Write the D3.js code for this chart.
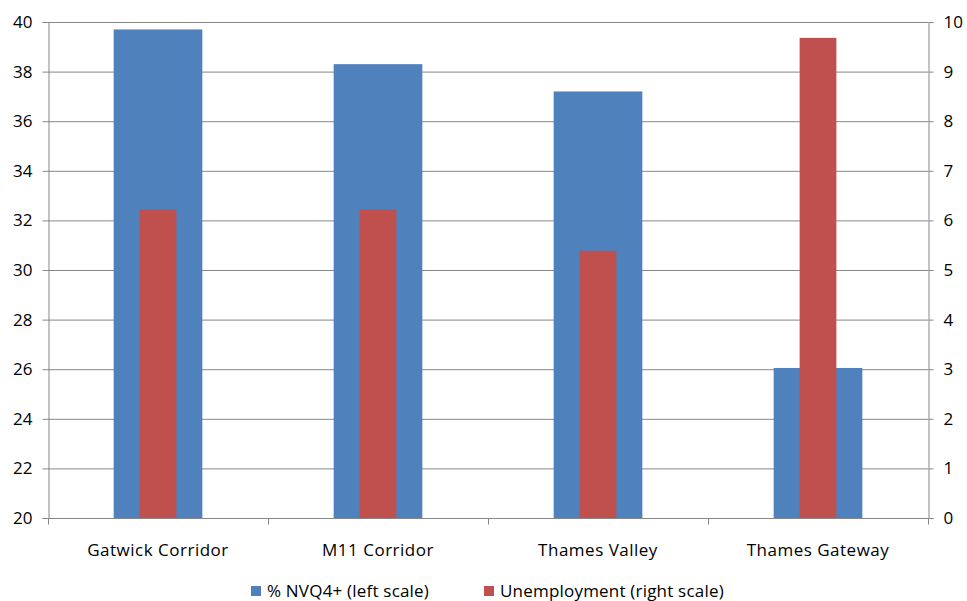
<!DOCTYPE html>
<html>
<head>
<meta charset="utf-8">
<script src="https://cdn.jsdelivr.net/npm/d3@7"></script>
<style>
  body { margin: 0; background: #fff; }
  svg text { font-family: "Open Sans", sans-serif; fill: #000; }
</style>
</head>
<body>
<svg width="967" height="601"></svg>
<script>
// data
var categories = ["Gatwick Corridor", "M11 Corridor", "Thames Valley", "Thames Gateway"];
var nvq4 = [39.7, 38.3, 37.2, 26.05];          // left scale
var unemployment = [6.22, 6.22, 5.39, 9.68];   // right scale
var leftTicks = [20, 22, 24, 26, 28, 30, 32, 34, 36, 38, 40];
var rightTicks = [0, 1, 2, 3, 4, 5, 6, 7, 8, 9, 10];
var legendLabels = ["% NVQ4+ (left scale)", "Unemployment (right scale)"];

var blue = "#4F81BD", red = "#C0504D", grid = "#878787";

var margin = {top: 22, right: 39, bottom: 83, left: 48};
var svg = d3.select("svg");
var width = 967 - margin.left - margin.right;
var height = 601 - margin.top - margin.bottom;

var g = svg.append("g").attr("transform", "translate(" + margin.left + "," + margin.top + ")");

var x = d3.scaleBand().domain(categories).range([0, width]);
var yL = d3.scaleLinear().domain([20, 40]).range([height, 0]);
var yR = d3.scaleLinear().domain([0, 10]).range([height, 0]);

// gridlines
g.selectAll(".grid").data(leftTicks.slice(1))
  .enter().append("line")
  .attr("x1", 0).attr("x2", width)
  .attr("y1", d => yL(d) + 0.5).attr("y2", d => yL(d) + 0.5)
  .attr("stroke", grid).attr("stroke-width", 1);

// blue bars (wide)
var bw = x.bandwidth() * 0.403;
g.selectAll(".nvq").data(nvq4)
  .enter().append("rect")
  .attr("x", (d, i) => x(categories[i]) + x.bandwidth() / 2 - bw / 2)
  .attr("width", bw)
  .attr("y", d => yL(d))
  .attr("height", d => height - yL(d))
  .attr("fill", blue);

// red bars (narrow, in front)
var rw = x.bandwidth() * 0.167;
g.selectAll(".unemp").data(unemployment)
  .enter().append("rect")
  .attr("x", (d, i) => x(categories[i]) + x.bandwidth() / 2 - rw / 2)
  .attr("width", rw)
  .attr("y", d => yR(d))
  .attr("height", d => height - yR(d))
  .attr("fill", red);

// axes
var leftAxis = d3.axisLeft(yL).tickValues(leftTicks).tickSize(6).tickPadding(10);
var rightAxis = d3.axisRight(yR).tickValues(rightTicks).tickSize(5).tickPadding(10);

var la = g.append("g").attr("transform", "translate(0.5,0)").call(leftAxis);
var ra = g.append("g").attr("transform", "translate(" + (width + 0.5) + ",0)").call(rightAxis);
[la, ra].forEach(function(a) {
  a.select(".domain").attr("stroke", grid);
  a.selectAll(".tick line").attr("stroke", grid);
  a.selectAll("text").attr("font-size", "17px").attr("font-family", "'Open Sans', sans-serif");
});

// bottom axis with ticks between categories
var bottom = g.append("g").attr("transform", "translate(0," + (height + 0.5) + ")");
bottom.append("line").attr("x1", 0).attr("x2", width).attr("stroke", grid);
bottom.selectAll(".btick").data(d3.range(categories.length + 1))
  .enter().append("line")
  .attr("x1", i => Math.round(i * x.step()) + 0.5)
  .attr("x2", i => Math.round(i * x.step()) + 0.5)
  .attr("y1", 0).attr("y2", 6)
  .attr("stroke", grid);
bottom.selectAll(".blabel").data(categories)
  .enter().append("text")
  .attr("x", d => x(d) + x.bandwidth() / 2)
  .attr("y", 37)
  .attr("text-anchor", "middle")
  .attr("font-size", "17px")
  .attr("letter-spacing", "0.5px")
  .text(d => d);

// legend
var legend = svg.append("g").attr("transform", "translate(0,586)");
var legX = [251, 484];
var legColors = [blue, red];
legendLabels.forEach(function(t, i) {
  legend.append("rect").attr("x", legX[i]).attr("y", 0).attr("width", 10).attr("height", 10).attr("fill", legColors[i]);
  legend.append("text").attr("x", legX[i] + 16).attr("y", 11).attr("font-size", "17px")
    .attr("letter-spacing", "0.2px").text(t);
});
</script>
</body>
</html>
